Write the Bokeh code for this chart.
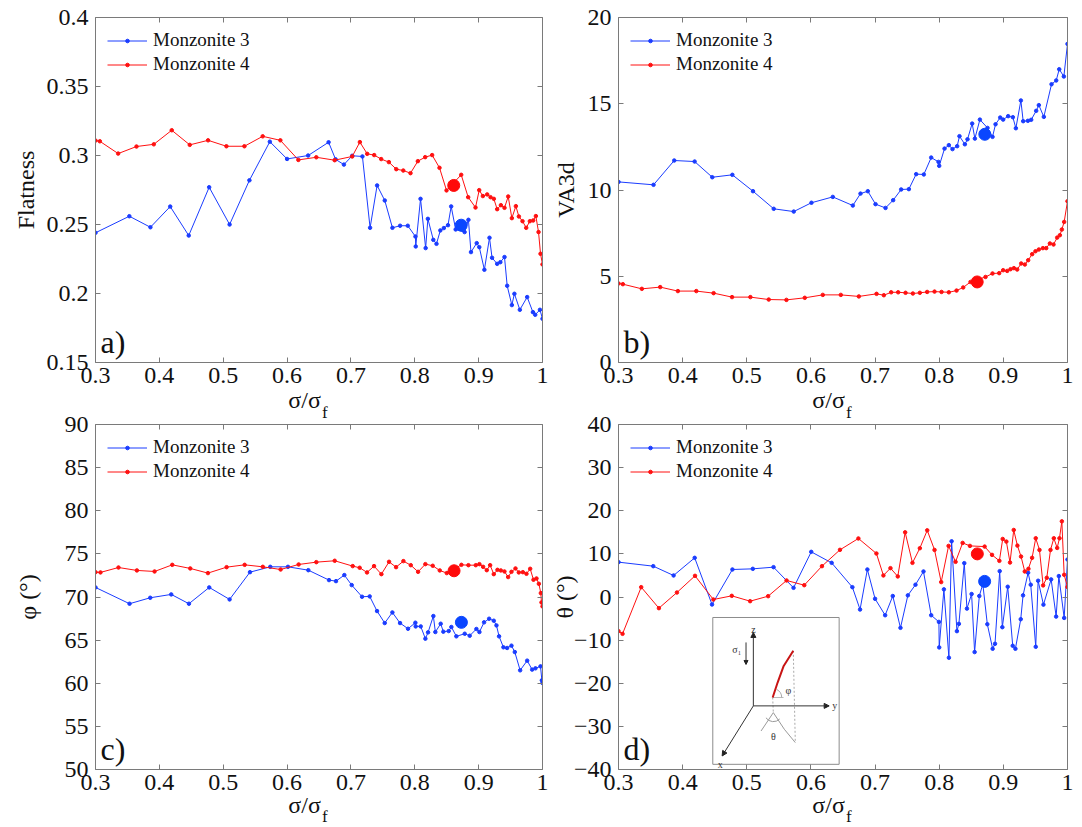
from bokeh.plotting import figure
from bokeh.layouts import column, row
from bokeh.models import (FixedTicker, LinearAxis, Label, Legend, LegendItem,
                          CustomJSTickFormatter, Range1d, Arrow, NormalHead)
from bokeh.embed import file_html
from bokeh.resources import INLINE

# ---------------- data ----------------
X_TICKS = [0.3, 0.4, 0.5, 0.6, 0.7, 0.8, 0.9, 1.0]
SERIES = ["Monzonite 3", "Monzonite 4"]
X_LABEL = "σ/σ"
X_LABEL_SUB = "f"

# a) Flatness
XA_M3 = [0.3, 0.353, 0.386, 0.417, 0.446, 0.478, 0.510, 0.541, 0.573, 0.600, 0.633, 0.665, 0.676, 0.689,
         0.702, 0.718, 0.730, 0.741, 0.753, 0.765, 0.777, 0.789, 0.801, 0.8015, 0.809, 0.817, 0.8205, 0.829,
         0.834, 0.840, 0.8455, 0.852, 0.857, 0.864, 0.878, 0.884, 0.888, 0.897, 0.901, 0.909, 0.917, 0.921,
         0.929, 0.934, 0.9405, 0.9447, 0.952, 0.956, 0.9645, 0.976, 0.985, 0.9886, 0.996, 1.0]
YA_M3 = [0.244, 0.256, 0.248, 0.263, 0.242, 0.277, 0.250, 0.282, 0.310, 0.2975, 0.300, 0.3096, 0.2972, 0.2934,
         0.2998, 0.2993, 0.2476, 0.2783, 0.2674, 0.2476, 0.2491, 0.2491, 0.2413, 0.2341, 0.2686, 0.2329, 0.2541,
         0.2389, 0.2360, 0.2457, 0.2474, 0.2495, 0.2631, 0.2464, 0.2445, 0.2534, 0.2300, 0.2365, 0.2336, 0.2172,
         0.2404, 0.2259, 0.2215, 0.2227, 0.2264, 0.2056, 0.1916, 0.1998, 0.1882, 0.1974, 0.1865, 0.1846, 0.1882,
         0.1817]
XA_M4 = [0.3, 0.3068, 0.3355, 0.3642, 0.3913, 0.4194, 0.4476, 0.4763, 0.505, 0.5332, 0.5618, 0.5895, 0.6177,
         0.6458, 0.6745, 0.702, 0.714, 0.7255, 0.7364, 0.7474, 0.7594, 0.771, 0.782, 0.7933, 0.8048, 0.8163,
         0.8272, 0.8387, 0.8497, 0.8727, 0.8836, 0.8951, 0.9009, 0.9066, 0.9134, 0.9186, 0.9238, 0.929, 0.9348,
         0.9405, 0.9463, 0.952, 0.9583, 0.963, 0.9687, 0.9745, 0.9802, 0.9854, 0.9896, 0.9938, 0.9969, 1.0]
YA_M4 = [0.3108, 0.3103, 0.3014, 0.3065, 0.3081, 0.3183, 0.3077, 0.3110, 0.3067, 0.3067, 0.3139, 0.3110, 0.2968,
         0.2987, 0.2966, 0.2993, 0.3097, 0.3012, 0.3003, 0.2974, 0.2952, 0.2901, 0.2891, 0.2872, 0.2959, 0.2988,
         0.3003, 0.2911, 0.2747, 0.2860, 0.2698, 0.2623, 0.2749, 0.2706, 0.2718, 0.2698, 0.2686, 0.2611, 0.2640,
         0.2621, 0.2703, 0.2546, 0.2633, 0.2558, 0.2524, 0.2476, 0.2524, 0.2529, 0.2561, 0.2445, 0.2288, 0.2211]
DOT_A_X = [0.8727, 0.861]
DOT_A_Y = [0.2495, 0.2783]

# b) VA3d
XB_M3 = [0.3, 0.3546, 0.3869, 0.4187, 0.4462, 0.4775, 0.5097, 0.5420, 0.5732, 0.6008, 0.6341, 0.6653, 0.6773,
         0.6887, 0.7007, 0.7163, 0.7282, 0.7407, 0.7527, 0.7641, 0.7760, 0.7875, 0.7989, 0.8000, 0.8083, 0.8150,
         0.8207, 0.8280, 0.8316, 0.8400, 0.8441, 0.8514, 0.8556, 0.8634, 0.8753, 0.8831, 0.8878, 0.8951, 0.8997,
         0.9075, 0.9148, 0.9195, 0.9273, 0.9309, 0.9382, 0.9434, 0.9512, 0.9553, 0.9631, 0.9751, 0.9824, 0.9871,
         0.9943, 1.0]
YB_M3 = [10.47, 10.30, 11.71, 11.65, 10.74, 10.88, 9.93, 8.91, 8.75, 9.26, 9.60, 9.10, 9.79, 9.93, 9.18, 8.96,
         9.41, 10.03, 10.05, 10.92, 10.90, 11.88, 11.63, 11.40, 12.40, 12.60, 12.37, 12.54, 13.12, 12.65, 12.94,
         13.85, 12.98, 14.08, 13.60, 13.08, 13.81, 14.20, 14.08, 14.28, 14.22, 13.58, 15.19, 13.99, 14.01, 14.07,
         14.59, 14.92, 14.24, 16.13, 16.35, 17.00, 16.58, 18.47]
XB_M4 = [0.3, 0.3068, 0.3364, 0.3650, 0.3926, 0.4213, 0.4483, 0.4770, 0.5056, 0.5342, 0.5618, 0.5904, 0.6185,
         0.6466, 0.6747, 0.7023, 0.7137, 0.7251, 0.7360, 0.7475, 0.7589, 0.7698, 0.7812, 0.7927, 0.8036, 0.8150,
         0.8270, 0.8374, 0.8488, 0.8722, 0.8831, 0.8935, 0.8997, 0.9060, 0.9112, 0.9164, 0.9216, 0.9278, 0.9335,
         0.9387, 0.9449, 0.9501, 0.9553, 0.9616, 0.9668, 0.9725, 0.9782, 0.9839, 0.9881, 0.9912, 0.9948, 1.0]
YB_M4 = [4.58, 4.54, 4.27, 4.37, 4.14, 4.14, 4.02, 3.79, 3.79, 3.65, 3.63, 3.75, 3.92, 3.92, 3.83, 3.98, 3.90,
         4.07, 4.07, 4.04, 4.00, 4.04, 4.09, 4.11, 4.09, 4.07, 4.17, 4.35, 4.67, 4.96, 5.16, 5.18, 5.35, 5.31,
         5.41, 5.47, 5.39, 5.74, 5.68, 5.93, 6.28, 6.45, 6.55, 6.63, 6.63, 6.90, 6.84, 7.24, 7.38, 7.71, 8.15, 9.35]
DOT_B_X = [0.8711, 0.8592]
DOT_B_Y = [13.23, 4.67]

# c) phi
XC_M3 = [0.3, 0.3533, 0.3857, 0.4186, 0.4463, 0.4781, 0.5100, 0.5419, 0.5737, 0.6014, 0.6333, 0.6657, 0.6766,
         0.6897, 0.7012, 0.7174, 0.7294, 0.7409, 0.7529, 0.7649, 0.7769, 0.7894, 0.8009, 0.8014, 0.8093, 0.8166,
         0.8208, 0.8291, 0.8322, 0.8406, 0.8447, 0.8531, 0.8573, 0.8651, 0.8782, 0.8860, 0.8965, 0.9012, 0.9085,
         0.9164, 0.9237, 0.9279, 0.9320, 0.9388, 0.9446, 0.9514, 0.9566, 0.9650, 0.9760, 0.9838, 0.9890, 0.9969,
         0.9990, 1.0]
YC_M3 = [71.11, 69.22, 69.91, 70.30, 69.22, 71.11, 69.72, 72.88, 73.50, 73.50, 73.11, 71.96, 71.84, 72.54, 71.38,
         70.03, 70.07, 68.37, 66.98, 68.21, 66.98, 66.32, 67.02, 66.59, 66.59, 65.17, 65.90, 67.79, 65.94, 66.90,
         65.98, 66.05, 66.52, 65.44, 65.74, 65.51, 66.29, 65.94, 67.06, 67.48, 67.25, 66.71, 65.44, 64.17, 64.09,
         64.36, 63.62, 61.50, 62.62, 61.58, 61.73, 61.96, 60.34, 60.03]
XC_M4 = [0.3, 0.3078, 0.3360, 0.3648, 0.3925, 0.4202, 0.4484, 0.4761, 0.5053, 0.5336, 0.5620, 0.5899, 0.6181,
         0.6458, 0.6746, 0.7028, 0.7137, 0.7252, 0.7362, 0.7477, 0.7597, 0.7707, 0.7822, 0.7937, 0.8052, 0.8166,
         0.8281, 0.8391, 0.8501, 0.8730, 0.8840, 0.8955, 0.9012, 0.9070, 0.9127, 0.9180, 0.9237, 0.9295, 0.9347,
         0.9404, 0.9462, 0.9514, 0.9577, 0.9629, 0.9692, 0.9749, 0.9807, 0.9859, 0.9906, 0.9943, 0.9974, 0.9984, 1.0]
YC_M4 = [72.88, 72.85, 73.42, 73.08, 72.96, 73.73, 73.31, 72.77, 73.46, 73.73, 73.50, 73.19, 73.77, 74.04, 74.20,
         73.58, 73.39, 72.85, 73.58, 72.65, 74.08, 73.46, 74.16, 73.69, 72.92, 73.81, 73.62, 73.08, 72.77, 73.73,
         73.69, 73.69, 73.81, 73.50, 73.11, 73.69, 72.65, 73.15, 73.08, 72.96, 72.31, 72.92, 73.31, 72.85, 72.88,
         72.69, 73.27, 72.00, 72.15, 71.53, 70.45, 69.37, 68.91]
DOT_C_X = [0.8730, 0.8615]
DOT_C_Y = [67.06, 73.04]

# d) theta
XD_M3 = [0.3, 0.3542, 0.3859, 0.4188, 0.4458, 0.4776, 0.5094, 0.5417, 0.5729, 0.6005, 0.6323, 0.6646, 0.6766,
         0.6880, 0.7000, 0.7157, 0.7276, 0.7396, 0.7511, 0.7630, 0.7755, 0.7875, 0.7995, 0.8000, 0.8073, 0.8151,
         0.8193, 0.8276, 0.8307, 0.8391, 0.8432, 0.8505, 0.8552, 0.8625, 0.8680, 0.8750, 0.8833, 0.8870, 0.8943,
         0.8984, 0.9068, 0.9146, 0.9188, 0.9271, 0.9307, 0.9386, 0.9427, 0.9505, 0.9542, 0.9625, 0.9745, 0.9823,
         0.9865, 0.9948, 1.0]
YD_M3 = [8.08, 7.15, 4.99, 9.08, -1.74, 6.38, 6.53, 6.92, 2.13, 10.47, 7.92, 2.28, -2.90, 6.38, -0.42, -4.23,
         0.23, -7.15, 0.38, 2.85, 5.92, -4.23, -5.77, -11.69, 1.77, -14.08, 12.92, -7.92, -6.23, 7.85, -2.69, 0.69,
         -12.77, 0.23, 3.0, -6.31, -12.0, -10.85, 6.0, -7.0, 2.38, -11.31, -12.0, -5.15, 0.38, 5.62, 2.85, -11.54,
         3.77, -1.77, 4.08, -4.54, 4.85, -4.85, 8.69]
XD_M4 = [0.3, 0.3063, 0.3354, 0.3630, 0.3911, 0.4193, 0.4479, 0.4766, 0.5052, 0.5333, 0.5620, 0.5896, 0.6172,
         0.6453, 0.6740, 0.7021, 0.7130, 0.7240, 0.7354, 0.7469, 0.7583, 0.7698, 0.7813, 0.7927, 0.8031, 0.8146,
         0.8255, 0.8365, 0.8479, 0.8708, 0.8823, 0.8938, 0.8990, 0.9047, 0.9104, 0.9162, 0.9219, 0.9276, 0.9334,
         0.9391, 0.9448, 0.9505, 0.9563, 0.9620, 0.9677, 0.9735, 0.9787, 0.9839, 0.9875, 0.9912, 0.9948, 1.0]
YD_M4 = [-7.92, -8.54, 2.28, -2.59, 1.04, 4.91, -0.58, 0.27, -0.97, 0.19, 3.83, 2.74, 7.15, 10.94, 13.57, 10.09,
         5.0, 6.69, 4.77, 15.0, 7.92, 11.31, 15.46, 10.92, 3.46, 11.85, 8.15, 12.54, 11.85, 11.69, 9.77, 8.38,
         13.46, 12.85, 8.0, 15.54, 11.92, 9.38, 5.92, 6.54, 9.08, 13.62, 10.92, 2.69, 4.46, 10.92, 13.62, 11.38,
         13.62, 17.54, 5.15, 2.31]
DOT_D_X = [0.8708, 0.8594]
DOT_D_Y = [3.62, 10.0]

# ---------------- styling ----------------
FONT = "Liberation Serif"
AX = "#7a7a7a"
BLUE = "#1a3cff"
RED = "#ff1010"
DOT_BLUE = "#0a46ff"
DOT_RED = "#ff0a0a"
EN = "\u2002"
THIN = "\u2009"

FMT_CODE = """
const v = Math.round(tick * 1000) / 1000;
return v < 0 ? '\u2212' + String(-v) : String(v);
"""


def style_axis(ax, ticks, show):
    ax.ticker = FixedTicker(ticks=ticks)
    ax.formatter = CustomJSTickFormatter(code=FMT_CODE)
    ax.axis_line_color = AX
    ax.major_tick_line_color = AX
    ax.major_tick_in = 5
    ax.major_tick_out = 0
    ax.minor_tick_line_color = None
    ax.major_label_text_font = FONT
    ax.major_label_text_color = "#111111"
    if show:
        ax.major_label_text_font_size = "24px"
    else:
        ax.major_label_text_font_size = "1px"
        ax.major_label_text_color = None
        ax.major_label_standoff = 0


def panel(xs3, ys3, xs4, ys4, dx, dy, yr, yticks, ylabel, letter, left, right, top, bottom, fw,
          lab_stand, xl_stand, sub_stand, transparent_top):
    p = figure(frame_width=fw, frame_height=345, x_range=Range1d(0.3, 1.0), y_range=Range1d(*yr),
               output_backend="svg", toolbar_location=None,
               min_border_left=left, min_border_right=right, min_border_top=top, min_border_bottom=bottom)
    p.xgrid.visible = False
    p.ygrid.visible = False
    p.outline_line_color = None
    p.background_fill_color = "white"
    p.border_fill_color = None if transparent_top else "white"
    p.add_layout(LinearAxis(), "above")
    p.add_layout(LinearAxis(), "right")
    style_axis(p.below[0], X_TICKS, True)
    style_axis(p.above[0], X_TICKS, False)
    style_axis(p.left[0], yticks, True)
    style_axis(p.right[0], yticks, False)
    xb = p.below[0]
    xb.major_label_standoff = 5
    xb.axis_label = X_LABEL + EN + EN + THIN
    xb.axis_label_text_font = FONT
    xb.axis_label_text_font_size = "24px"
    xb.axis_label_text_font_style = "normal"
    xb.axis_label_text_color = "#111111"
    xb.axis_label_standoff = xl_stand
    # subscript of the x label, on a bare second axis
    sub = LinearAxis(ticker=FixedTicker(ticks=[]), axis_line_color=None, major_tick_line_color=None,
                     minor_tick_line_color=None, major_label_text_font_size="1px",
                     major_label_text_color=None, major_label_standoff=0,
                     axis_label=EN + THIN + X_LABEL_SUB, axis_label_text_font=FONT,
                     axis_label_text_font_size="17px", axis_label_text_font_style="normal",
                     axis_label_text_color="#111111", axis_label_standoff=sub_stand)
    p.add_layout(sub, "below")

    yl = p.left[0]
    yl.major_label_standoff = 7
    yl.axis_label = ylabel
    yl.axis_label_text_font = FONT
    yl.axis_label_text_font_size = "24px"
    yl.axis_label_text_font_style = "normal"
    yl.axis_label_text_color = "#111111"
    yl.axis_label_standoff = lab_stand

    l3 = p.line(xs3, ys3, line_color=BLUE, line_width=1)
    m3 = p.scatter(xs3, ys3, size=3.5, color=BLUE, marker="circle")
    l4 = p.line(xs4, ys4, line_color=RED, line_width=1)
    m4 = p.scatter(xs4, ys4, size=3.5, color=RED, marker="circle")
    p.scatter(dx, dy, size=12, color=[DOT_BLUE, DOT_RED], marker="circle")

    leg = Legend(items=[LegendItem(label=SERIES[0], renderers=[l3, m3]),
                        LegendItem(label=SERIES[1], renderers=[l4, m4])],
                 location="top_left", border_line_alpha=0, background_fill_alpha=0,
                 label_text_font=FONT, label_text_font_size="19px", label_text_color="#111111",
                 glyph_width=40, glyph_height=9, label_height=20, spacing=2,
                 padding=10, margin=2, label_standoff=6)
    p.add_layout(leg)

    y0 = yr[0]
    p.add_layout(Label(x=0.3, y=y0, x_offset=5, y_offset=21, text=letter, text_font=FONT,
                       text_font_size="32px", text_baseline="alphabetic", text_color="#111111"))
    return p


pa = panel(XA_M3, YA_M3, XA_M4, YA_M4, DOT_A_X, DOT_A_Y, (0.15, 0.4),
           [0.15, 0.2, 0.25, 0.3, 0.35, 0.4], "Flatness", "a)", 95, 6, 17, 60, 447, 5, 1, -13, False)
pb = panel(XB_M3, YB_M3, XB_M4, YB_M4, DOT_B_X, DOT_B_Y, (0, 20),
           [0, 5, 10, 15, 20], "VA3d", "b)", 70, 13, 17, 60, 449, 6, 1, -13, False)
pc = panel(XC_M3, YC_M3, XC_M4, YC_M4, DOT_C_X, DOT_C_Y, (50, 90),
           [50, 55, 60, 65, 70, 75, 80, 85, 90], "φ (°)", "c)", 95, 6, 14, 56, 447, 21, -1, -14, True)
pd = panel(XD_M3, YD_M3, XD_M4, YD_M4, DOT_D_X, DOT_D_Y, (-40, 40),
           [-40, -30, -20, -10, 0, 10, 20, 30, 40], "θ (°)", "d)", 70, 13, 14, 56, 449, -7, -1, -14, True)

# ---------------- inset schematic in panel d (local 0..1 units) ----------------
IX0, IX1, IY0, IY1 = 0.447, 0.644, -38.8, -4.75


def ix(u):
    return [IX0 + a * (IX1 - IX0) for a in u]


def iy(v):
    return [IY0 + b * (IY1 - IY0) for b in v]


pd.quad(left=[IX0], right=[IX1], bottom=[IY0], top=[IY1], fill_color="white",
        line_color="#8c8c8c", line_width=1)
ORIGIN = (0.321, 0.398)
AXES_END = [(0.321, 0.898), (0.921, 0.398), (0.074, 0.057)]
for (ue, ve) in AXES_END:
    pd.add_layout(Arrow(end=NormalHead(size=5, fill_color="#222222", line_color="#222222"),
                        x_start=ix([ORIGIN[0]])[0], y_start=iy([ORIGIN[1]])[0],
                        x_end=ix([ue])[0], y_end=iy([ve])[0], line_color="#333333", line_width=1))
pd.add_layout(Arrow(end=NormalHead(size=4, fill_color="#222222", line_color="#222222"),
                    x_start=ix([0.263])[0], y_start=iy([0.83])[0], x_end=ix([0.263])[0], y_end=iy([0.68])[0],
                    line_color="#333333", line_width=1))
pd.line(ix([0.637, 0.653]), iy([0.773, 0.148]), line_color="#aaaaaa", line_dash="2 2", line_width=1)
pd.line(ix([0.474, 0.479]), iy([0.455, 0.352]), line_color="#aaaaaa", line_dash="2 2", line_width=1)
pd.line(ix([0.382, 0.479, 0.566, 0.653]), iy([0.227, 0.352, 0.239, 0.148]), line_color="#9a9a9a", line_width=1)
pd.arc(x=ix([0.479]), y=iy([0.352]), radius=9, radius_units="screen", start_angle=3.75, end_angle=5.5,
       line_color="#9a9a9a", line_width=1)
pd.line(ix([0.474, 0.56]), iy([0.455, 0.455]), line_color="#bbbbbb", line_width=1)
pd.arc(x=ix([0.474]), y=iy([0.455]), radius=9, radius_units="screen", start_angle=0.0, end_angle=1.1,
       line_color="#aaaaaa", line_width=1)
pd.line(ix([0.474, 0.513, 0.561, 0.637]), iy([0.455, 0.557, 0.670, 0.773]), line_color="#c81414", line_width=2)
INSET_TEXT = [("z", 0.321, 0.915, "center"), ("y", 0.945, 0.398, "left"), ("x", 0.06, 0.0, "center"),
              ("σ\u2081", 0.19, 0.78, "center"), ("φ", 0.575, 0.50, "left"), ("θ", 0.479, 0.19, "center")]
for t, u, v, al in INSET_TEXT:
    pd.add_layout(Label(x=ix([u])[0], y=iy([v])[0], text=t, text_font=FONT, text_font_size="10px",
                        text_align=al, text_baseline="middle", text_color="#333333"))

layout = column(row(pa, pb), row(pc, pd, styles={"margin-top": "-14px"}))
open("out.html", "w").write(file_html(layout, INLINE, "Monzonite"))
